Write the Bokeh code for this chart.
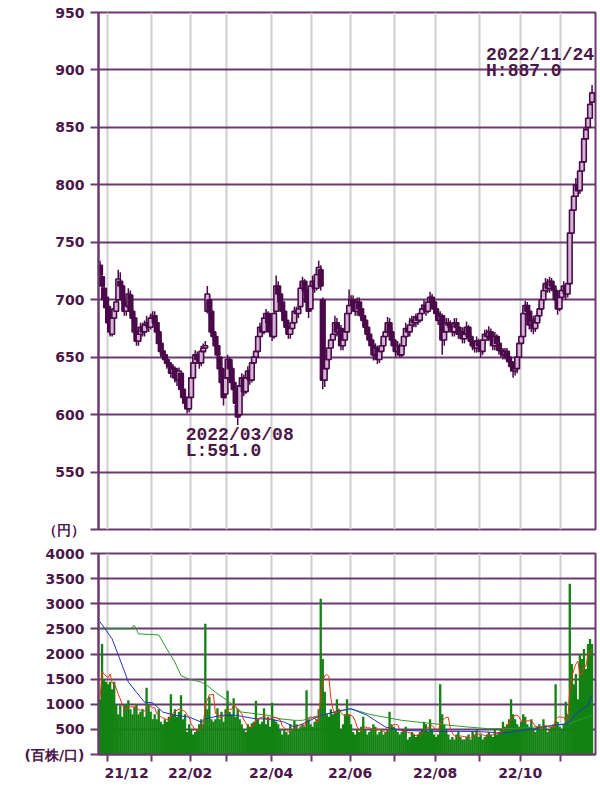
import pandas as pd
from bokeh.plotting import figure
from bokeh.layouts import column
from bokeh.models import ColumnDataSource, FixedTicker, Range1d, Label
from bokeh.embed import file_html
from bokeh.resources import INLINE

# ---------------- data (trading-day index 0 = 2021/11/25 ... 243 = 2022/11/24)
opens = [730,720,710,702,694,682,670,684,690,700,716,712,700,690,694,704,690,684,672,664,
         670,676,672,678,680,676,684,686,680,672,662,655,652,648,645,642,636,640,632,630,
         636,622,615,610,605,615,632,645,652,648,645,655,658,690,700,690,672,668,660,650,
         640,628,618,632,648,640,628,622,608,600,625,632,620,632,638,630,645,650,655,668,
         676,672,684,688,680,672,668,690,712,705,698,690,682,676,670,675,680,690,688,694,
         710,716,708,698,692,712,716,710,722,726,700,630,640,648,658,665,670,680,672,675,
         660,665,672,688,695,700,695,690,698,692,686,682,676,670,665,660,652,658,648,655,
         660,668,672,680,672,665,660,655,660,652,660,668,675,672,678,682,680,685,682,688,
         692,695,690,698,702,698,692,688,682,686,665,672,680,678,676,672,680,676,670,672,
         666,670,676,668,664,660,658,664,660,655,665,670,668,672,666,660,668,662,656,655,
         652,655,650,646,642,638,640,650,662,668,688,695,690,678,682,675,680,686,692,700,
         708,714,710,716,712,708,700,692,702,708,712,705,714,758,778,790,800,795,812,820,
         840,850,858,872]
closes = [722,712,700,693,680,672,684,692,698,718,712,700,690,695,705,690,684,672,664,670,
          676,672,678,680,676,684,686,680,672,662,655,652,648,645,642,636,640,632,630,638,
          622,615,610,605,615,632,645,652,648,645,655,658,660,705,690,672,668,660,652,640,
          628,615,632,648,640,628,622,610,598,625,632,620,632,638,630,645,650,655,668,676,
          672,684,688,680,672,668,688,712,705,698,690,682,676,670,675,680,690,688,692,710,
          716,708,698,690,712,716,710,722,728,712,630,640,648,658,665,670,680,672,675,660,
          665,672,688,695,700,695,690,698,692,686,682,676,670,665,660,652,658,648,655,660,
          668,672,680,672,665,660,655,660,652,660,668,675,672,678,682,680,685,682,688,692,
          695,690,698,702,698,692,688,682,686,665,672,680,678,676,672,680,676,670,672,666,
          670,676,668,664,660,658,664,660,655,665,670,668,672,666,660,668,662,656,655,652,
          655,650,646,642,638,640,650,662,668,688,695,690,678,682,675,680,686,692,700,708,
          714,710,716,712,708,700,692,702,708,712,705,714,758,778,790,800,795,812,820,840,
          848,858,870,880]
highs = [734,724,714,706,698,686,688,696,702,726,724,716,704,700,710,708,694,688,676,674,
         680,680,682,686,684,688,690,690,682,674,666,658,656,652,648,645,644,642,636,641,
         638,626,620,614,618,636,650,656,655,652,660,662,664,712,704,692,676,672,664,654,
         644,632,636,652,650,644,632,625,612,628,636,635,636,642,640,648,654,658,672,680,
         682,688,692,690,684,676,692,721,716,708,700,694,686,680,678,684,694,694,696,714,
         720,718,710,700,716,721,720,726,734,730,702,644,652,662,670,676,686,684,680,678,
         670,676,692,709,704,704,700,702,702,696,690,686,680,674,668,664,662,660,658,664,
         672,676,685,684,676,668,664,664,662,664,672,680,678,684,686,686,688,688,692,696,
         700,698,702,707,705,700,696,690,690,688,676,684,684,682,680,684,684,680,676,676,
         674,681,678,672,668,664,668,666,662,668,674,674,677,675,668,672,670,664,660,658,
         658,658,652,650,646,644,654,666,672,692,699,698,692,686,686,684,690,696,705,712,
         719,718,720,719,716,710,704,706,712,716,714,718,774,782,800,806,806,818,826,850,
         852,864,874,887]
lows = [712,706,696,688,676,668,668,680,686,696,706,696,686,686,690,686,680,668,660,660,
        666,668,668,674,672,674,678,676,668,658,650,648,644,640,638,632,632,628,625,626,
        618,610,606,601,602,612,630,642,644,640,642,650,654,688,684,668,664,656,648,636,
        622,608,614,630,636,624,618,606,591,598,620,616,618,628,626,628,642,646,652,664,
        668,670,680,676,668,664,666,688,700,694,686,678,672,666,666,672,678,684,684,692,
        706,704,694,684,690,708,706,708,718,708,622,624,636,644,654,660,666,668,668,656,
        656,662,670,684,690,690,686,686,688,682,678,672,666,660,656,647,648,644,645,650,
        656,664,668,668,660,656,650,652,650,650,656,664,668,668,674,676,676,678,680,684,
        688,686,688,694,694,688,684,678,678,652,660,668,674,672,668,668,672,666,666,662,
        662,666,664,660,656,654,654,655,650,652,660,664,664,662,656,656,658,652,650,648,
        648,646,642,638,632,634,636,648,658,666,684,686,674,672,670,672,676,682,688,696,
        704,706,706,708,704,696,687,690,698,702,700,702,712,754,772,786,790,792,808,818,
        836,846,854,866]
volume = [1100,2200,1500,1450,1400,1450,1300,1450,1000,800,980,750,980,1000,1080,900,800,950,1000,800,
          850,900,750,1330,1000,850,700,800,700,900,650,600,700,650,750,1200,800,900,750,850,
          1180,700,800,450,600,500,400,450,500,600,700,600,2600,900,1150,700,650,700,920,700,
          850,650,900,1270,850,800,1120,750,900,700,600,500,450,600,550,620,650,1070,700,600,
          650,920,600,750,550,1030,700,650,600,500,400,500,450,400,600,500,680,600,500,550,
          600,550,1280,700,600,550,650,700,900,3100,1900,1250,800,750,900,800,850,1100,900,500,
          600,800,1100,800,600,450,400,500,450,550,750,500,400,450,500,600,550,400,450,500,
          400,450,500,850,600,550,500,450,400,450,500,550,300,350,450,400,350,400,450,500,
          650,600,450,700,500,400,350,400,1400,800,600,500,400,300,350,300,400,450,350,300,
          300,350,400,300,450,400,500,350,400,300,350,400,450,400,350,500,400,450,500,650,
          550,600,700,1100,800,700,600,550,650,800,750,600,550,700,500,450,550,600,500,700,
          550,450,500,550,600,1400,650,550,500,600,1050,800,3400,1800,1400,1600,1100,2000,1900,2100,
          1700,2200,2300,2200]
ma25_day = [0, 6, 11, 14, 18, 22, 26, 31, 37, 44, 50, 52, 60, 67, 77, 83, 91, 96, 100, 109,
            119, 124, 132, 141, 149, 165, 182, 192, 198, 205, 214, 224, 231, 236, 241, 243]
ma25 = [2640, 2300, 1770, 1440, 1240, 1040, 1030, 845, 780, 745, 645, 710, 780, 780, 710, 710, 645, 546, 610, 778,
        877, 910, 778, 546, 480, 460, 460, 447, 420, 460, 513, 579, 612, 844, 976, 1174]
ma75_day = [0, 15, 17, 19, 29, 33, 37, 40, 44, 50, 53, 57, 64, 70, 77, 83, 89, 96, 100, 109,
            124, 133, 149, 165, 182, 192, 205, 220, 232, 243]
ma75 = [2500, 2500, 2570, 2400, 2380, 2100, 1835, 1570, 1500, 1440, 1370, 1240, 1040, 845, 810, 780, 710, 680, 680, 780,
        910, 800, 680, 612, 546, 513, 520, 560, 620, 780]

month_start = [4, 26, 45, 63, 85, 105, 124, 146, 166, 188, 208, 228]
month_label = ["21/12", "", "22/02", "", "22/04", "", "22/06", "", "22/08", "", "22/10", ""]
price_ticks = [500, 550, 600, 650, 700, 750, 800, 850, 900, 950]
vol_ticks = [0, 500, 1000, 1500, 2000, 2500, 3000, 3500, 4000]
price_unit = "（円）"
vol_unit = "(百株/口)"
high_date = "2022/11/24"
low_date = "2022/03/08"

# ---------------- styling
PURPLE = "#6b3b70"
TEXT = "#4a1748"
CANDLE = "#4a0a4a"
UPFILL = "#d4b6d4"
VGRID = "#cfcfcf"
FONT = "DejaVu Sans"

idx = list(range(len(closes)))
up = [c >= o for o, c in zip(opens, closes)]
src = ColumnDataSource(dict(
    x=idx, o=opens, c=closes, h=highs, l=lows,
    top=[max(o, c) for o, c in zip(opens, closes)],
    bot=[min(o, c) for o, c in zip(opens, closes)],
    fill=[UPFILL if u else CANDLE for u in up],
))
vol_ma5 = pd.Series(volume).rolling(5, min_periods=1).mean().tolist()
vsrc = ColumnDataSource(dict(x=idx, v=volume, ma5=vol_ma5))

xr = Range1d(-0.75, 244.7)
grid_ticks = [m - 0.5 for m in month_start]


def style(p):
    p.outline_line_color = PURPLE
    p.outline_line_width = 2
    p.background_fill_color = "white"
    p.border_fill_color = "white"
    p.xgrid.ticker = FixedTicker(ticks=grid_ticks)
    p.xgrid.grid_line_color = VGRID
    p.xgrid.grid_line_width = 2
    p.ygrid.grid_line_color = PURPLE
    p.ygrid.grid_line_width = 2
    ax = p.yaxis[0]
    ax.axis_line_color = PURPLE
    ax.axis_line_width = 2
    ax.major_tick_line_color = PURPLE
    ax.major_tick_line_width = 2
    ax.major_tick_out = 8
    ax.major_tick_in = 0
    ax.minor_tick_line_color = None
    ax.major_label_text_font = FONT
    ax.major_label_text_font_style = "bold"
    ax.major_label_text_font_size = "14px"
    ax.major_label_text_color = TEXT
    ax.major_label_standoff = 6


# ---------------- price panel
p1 = figure(frame_width=497, frame_height=517, x_range=xr, y_range=Range1d(500, 950),
            output_backend="svg", toolbar_location=None, tools="",
            min_border_left=98, min_border_right=3, min_border_top=12, min_border_bottom=12)
style(p1)
p1.xaxis.visible = False
p1.yaxis.ticker = FixedTicker(ticks=price_ticks)
p1.yaxis.major_label_overrides = {price_ticks[0]: price_unit}
p1.segment(x0="x", x1="x", y0="l", y1="h", source=src, line_color=CANDLE, line_width=1.5)
p1.vbar(x="x", top="top", bottom="bot", width=2.3, source=src,
        fill_color="fill", line_color=CANDLE, line_width=1.6)

hi_i = highs.index(max(highs))
lo_i = lows.index(min(lows))
ann = dict(text_font="Liberation Mono", text_font_style="bold", text_font_size="18px",
           text_color=TEXT)
p1.add_layout(Label(x=hi_i, y=highs[hi_i], x_offset=-106, y_offset=20, text=high_date,
                    text_baseline="bottom", **ann))
p1.add_layout(Label(x=hi_i, y=highs[hi_i], x_offset=-106, y_offset=4, text=f"H:{highs[hi_i]:.1f}",
                    text_baseline="bottom", **ann))
p1.add_layout(Label(x=lo_i, y=lows[lo_i], x_offset=-52, y_offset=0, text=low_date,
                    text_baseline="top", **ann))
p1.add_layout(Label(x=lo_i, y=lows[lo_i], x_offset=-52, y_offset=-16, text=f"L:{lows[lo_i]:.1f}",
                    text_baseline="top", **ann))

# ---------------- volume panel
p2 = figure(frame_width=497, frame_height=201, x_range=xr, y_range=Range1d(0, 4000),
            output_backend="svg", toolbar_location=None, tools="",
            min_border_left=98, min_border_right=3, min_border_top=12, min_border_bottom=10)
style(p2)
p2.yaxis.ticker = FixedTicker(ticks=vol_ticks)
p2.yaxis.major_label_overrides = {0: vol_unit}
xa = p2.xaxis[0]
xa.ticker = FixedTicker(ticks=grid_ticks)
labels = {}
for g, lab in zip(grid_ticks, month_label):
    labels[g] = lab
labels[grid_ticks[0]] = "\u00a0" * 8 + month_label[0]
xa.major_label_overrides = labels
xa.axis_line_color = PURPLE
xa.axis_line_width = 2
xa.major_tick_line_color = PURPLE
xa.major_tick_line_width = 2
xa.major_tick_out = 7
xa.major_tick_in = 0
xa.minor_tick_line_color = None
xa.major_label_text_font = FONT
xa.major_label_text_font_style = "bold"
xa.major_label_text_font_size = "14px"
xa.major_label_text_color = TEXT
xa.major_label_standoff = 3

p2.vbar(x="x", top="v", bottom=0, width=1.15, source=vsrc,
        fill_color="#128212", line_color=None)
p2.line(x=ma75_day, y=ma75, line_color="#2f9a2f", line_width=1)
p2.line(x=ma25_day, y=ma25, line_color="#2233cc", line_width=1)
p2.line(x="x", y="ma5", source=vsrc, line_color="#ee3311", line_width=1)

layout = column(p1, p2, spacing=0)
open("out.html", "w").write(file_html(layout, INLINE))
